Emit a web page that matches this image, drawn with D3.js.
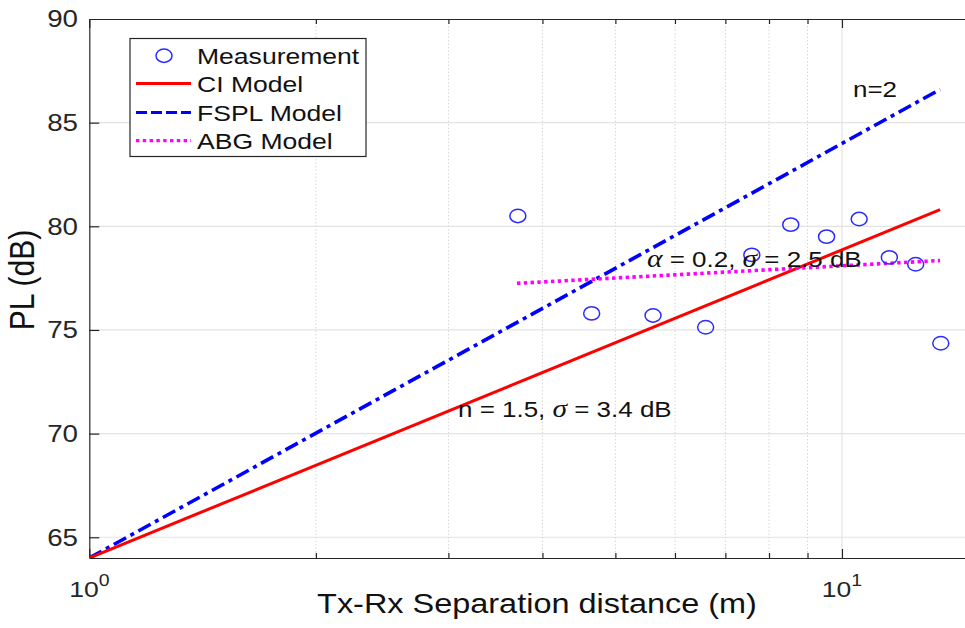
<!DOCTYPE html>
<html>
<head>
<meta charset="utf-8">
<script src="https://cdn.jsdelivr.net/npm/d3@7"></script>
<style>
  body { margin: 0; background: #fff; }
  svg { display: block; }
  text { font-family: "Liberation Sans", Arial, sans-serif; }
</style>
</head>
<body>
<svg id="chart"></svg>
<script>
const width = 965;
const height = 628;
const plotLeft = 89.3, plotRight = 974.5, plotTop = 19, plotBottom = 558;
const stretch = 1.18; // glyphs in the picture are a bit wide

// measurement points
const distances  = [3.71, 4.65, 5.61, 6.59, 7.59, 8.55, 9.54, 10.54, 11.56, 12.53, 13.53];
const measuredPL = [80.5, 75.8, 75.7, 75.13, 78.62, 80.08, 79.5, 80.35, 78.5, 78.17, 74.36];

// model lines (end points)
const ciDist = [1, 13.5];
const ciPL = [64, 80.8];
const fsplDist = [1, 13.5];
const fsplPL = [64, 86.6];
const abgDist = [3.7, 13.5];
const abgPL = [77.25, 78.35];

const yTicks = [65, 70, 75, 80, 85, 90];
const xTicks = [1, 10];
const xTickExp = ['0', '1'];
const xMinor = [2, 3, 4, 5, 6, 7, 8, 9];
const legendLabels = ['Measurement', 'CI Model', 'FSPL Model', 'ABG Model'];

const svg = d3.select('#chart').attr('width', width).attr('height', height);

const x = d3.scaleLog().domain([1, 15]).range([plotLeft, plotRight]);
const y = d3.scaleLinear().domain([64, 90]).range([plotBottom, plotTop]);

function stext(g, px, py, str, size, anchor) {
    return g.append('text')
        .attr('transform', `translate(${px},${py}) scale(${stretch},1)`)
        .attr('font-size', size)
        .attr('text-anchor', anchor || 'start')
        .text(str);
}

svg.append('defs').append('clipPath').attr('id', 'plot')
    .append('rect').attr('x', plotLeft).attr('y', plotTop)
    .attr('width', plotRight - plotLeft).attr('height', plotBottom - plotTop);

// grid
const grid = svg.append('g');
grid.selectAll('.hg').data(yTicks.filter(v => v < 90)).enter().append('line')
    .attr('x1', plotLeft).attr('x2', plotRight)
    .attr('y1', d => y(d)).attr('y2', d => y(d))
    .attr('stroke', '#e3e3e3').attr('stroke-width', 1.2);
grid.selectAll('.vg').data([10]).enter().append('line')
    .attr('x1', d => x(d)).attr('x2', d => x(d))
    .attr('y1', plotTop).attr('y2', plotBottom)
    .attr('stroke', '#e3e3e3').attr('stroke-width', 1.2);
grid.selectAll('.vm').data(xMinor).enter().append('line')
    .attr('x1', d => x(d)).attr('x2', d => x(d))
    .attr('y1', plotTop).attr('y2', plotBottom)
    .attr('stroke', '#d6d6d6').attr('stroke-width', 1)
    .attr('stroke-dasharray', '1.5,2');

// axes
const axisColor = '#262626';
function styleAxis(g) {
    g.selectAll('path,line').attr('stroke', axisColor).attr('stroke-width', 1.2);
    g.selectAll('text').remove();
}
svg.append('g').attr('transform', `translate(${plotLeft},0)`)
    .call(d3.axisLeft(y).tickValues(yTicks.slice(0, 5)).tickSize(-10).tickSizeOuter(0)).call(styleAxis);
svg.append('g').attr('transform', `translate(0,${plotBottom})`)
    .call(d3.axisBottom(x).tickValues(xTicks).tickSize(-9).tickSizeOuter(0)).call(styleAxis);
svg.append('g').attr('transform', `translate(0,${plotBottom})`)
    .call(d3.axisBottom(x).tickValues(xMinor).tickSize(-5).tickSizeOuter(0)).call(styleAxis);
svg.append('g').attr('transform', `translate(0,${plotTop})`)
    .call(d3.axisTop(x).tickValues(xTicks).tickSize(-9).tickSizeOuter(0)).call(styleAxis);
svg.append('g').attr('transform', `translate(0,${plotTop})`)
    .call(d3.axisTop(x).tickValues(xMinor).tickSize(-5).tickSizeOuter(0)).call(styleAxis);

// tick labels
yTicks.forEach(v => {
    stext(svg, 78, y(v) + 8.3, String(v), 23.5, 'end').attr('fill', axisColor);
});
xTicks.forEach((v, i) => {
    const t = stext(svg, x(v), 597, '10', 22.5, 'middle').attr('fill', axisColor);
    t.append('tspan').attr('dy', -11).attr('font-size', 16.5).text(xTickExp[i]);
});

// axis titles
stext(svg, 537, 613, 'Tx-Rx Separation distance (m)', 27.5, 'middle').attr('fill', '#111');
svg.append('text')
    .attr('transform', `translate(34,280) rotate(-90) scale(1,${stretch})`)
    .attr('font-size', 30).attr('text-anchor', 'middle').attr('fill', '#111')
    .text('PL (dB)');

// model lines
const plot = svg.append('g').attr('clip-path', 'url(#plot)');
const line = d3.line().x(d => x(d[0])).y(d => y(d[1]));

plot.append('path').datum(d3.zip(fsplDist, fsplPL))
    .attr('d', line).attr('fill', 'none').attr('stroke', '#0000ff')
    .attr('stroke-width', 3.6).attr('stroke-dasharray', '14,5,4,5');
plot.append('path').datum(d3.zip(ciDist, ciPL))
    .attr('d', line).attr('fill', 'none').attr('stroke', '#ff0000')
    .attr('stroke-width', 3);
plot.append('path').datum(d3.zip(abgDist, abgPL))
    .attr('d', line).attr('fill', 'none').attr('stroke', '#ff00ff')
    .attr('stroke-width', 3.6).attr('stroke-dasharray', '3.4,3.4');

// measurements
plot.selectAll('ellipse').data(d3.zip(distances, measuredPL)).enter().append('ellipse')
    .attr('cx', d => x(d[0])).attr('cy', d => y(d[1]))
    .attr('rx', 8).attr('ry', 6.7)
    .attr('fill', 'none').attr('stroke', '#2b2bff').attr('stroke-width', 1.5);

// annotations
function greekText(px, py, parts) {
    const t = svg.append('text')
        .attr('transform', `translate(${px},${py}) scale(${stretch},1)`)
        .attr('font-size', 22).attr('fill', '#111');
    parts.forEach(p => {
        const s = t.append('tspan').text(p[0]);
        if (p[1]) s.attr('font-family', '"Liberation Serif", serif').attr('font-style', 'italic').attr('font-size', 25);
    });
    return t;
}
stext(svg, 853, 97, 'n=2', 22).attr('fill', '#111');
greekText(647, 267, [['\u03b1', true], [' = 0.2, ', false], ['\u03c3', true], [' = 2.5 dB', false]]);
greekText(458, 417, [['n = 1.5, ', false], ['\u03c3', true], [' = 3.4 dB', false]]);

// legend
const legend = svg.append('g');
legend.append('rect').attr('x', 130).attr('y', 38.5).attr('width', 236).attr('height', 118)
    .attr('fill', '#fff').attr('stroke', axisColor).attr('stroke-width', 1.2);
const rowY = [55.7, 83.5, 112.5, 140.7];
legend.append('ellipse').attr('cx', 164).attr('cy', rowY[0]).attr('rx', 8).attr('ry', 6.7)
    .attr('fill', 'none').attr('stroke', '#2b2bff').attr('stroke-width', 1.5);
const legendStyles = [null, ['#ff0000', null], ['#0000ff', '11,4'], ['#ff00ff', '3.4,3.4']];
legendStyles.forEach((s, i) => {
    if (!s) return;
    legend.append('line').attr('x1', 136).attr('x2', 191)
        .attr('y1', rowY[i]).attr('y2', rowY[i])
        .attr('stroke', s[0]).attr('stroke-width', 3.2)
        .attr('stroke-dasharray', s[1]);
});
legendLabels.forEach((l, i) => {
    stext(legend, 197, rowY[i] + 8, l, 22.5).attr('fill', '#111');
});
</script>
</body>
</html>
